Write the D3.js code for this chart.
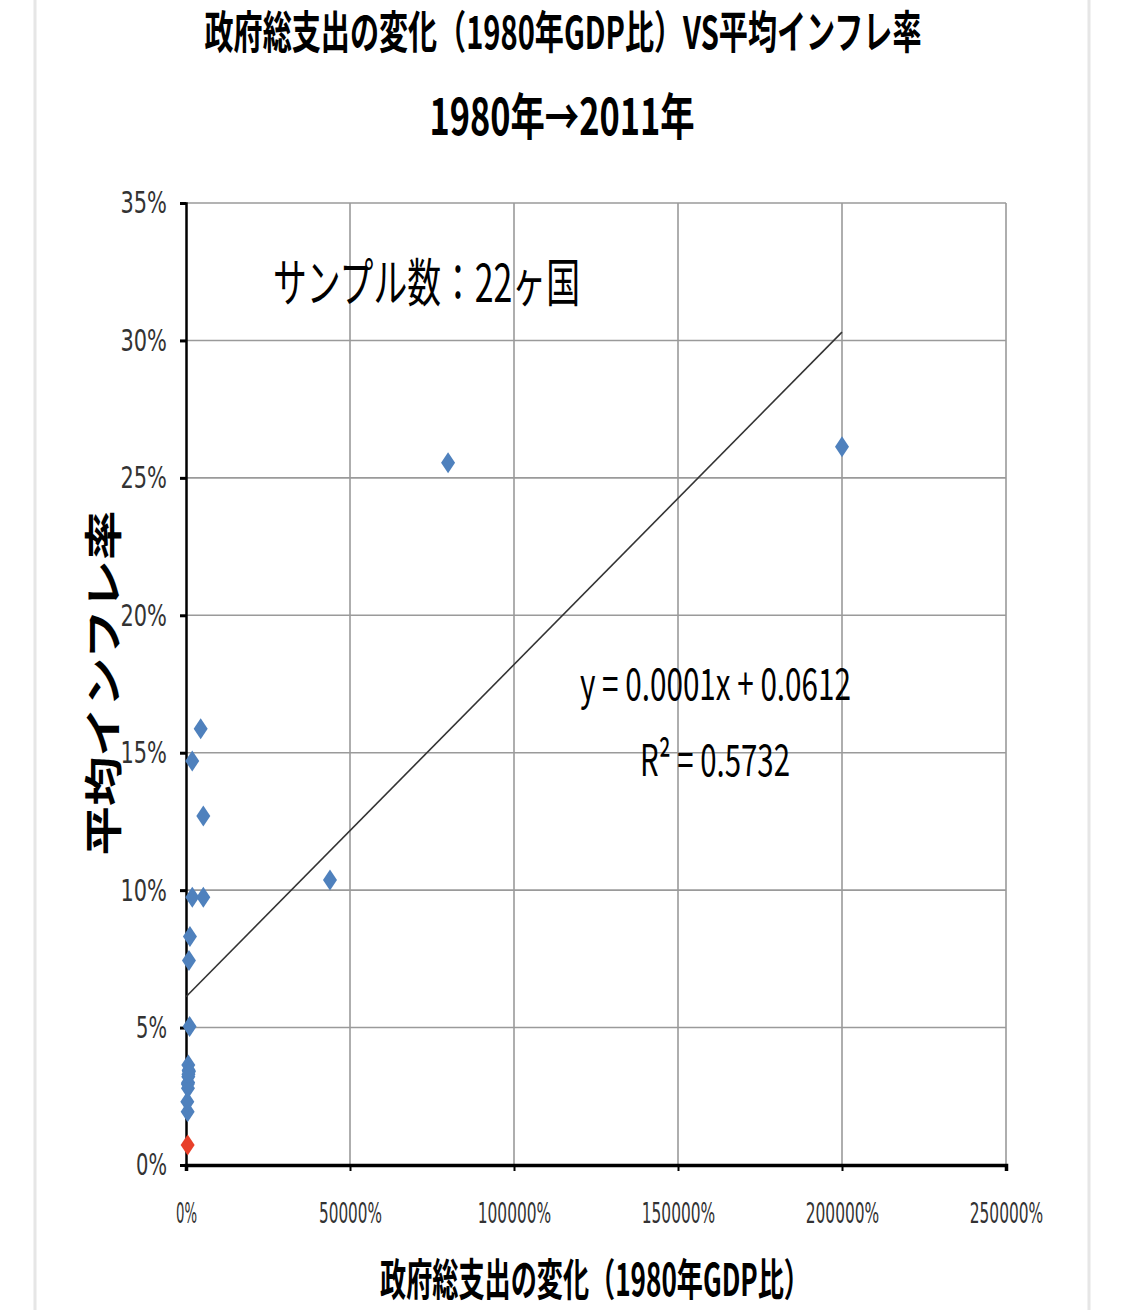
<!DOCTYPE html>
<html><head><meta charset="utf-8">
<script src="https://cdn.jsdelivr.net/npm/d3@7"></script>
<style>
html,body{margin:0;padding:0;background:#fff;}
svg{display:block;}
</style></head>
<body>
<svg id="chart" width="1125" height="1310"></svg>
<script>
// ---- data (x: 政府総支出の変化 %, y: 平均インフレ率 %) ----
const countryX = [43900, 79900, 200000, 4480, 1900, 5280, 1920, 5280, 1200, 900, 1100, 700, 700, 600, 500, 800, 650, 550, 900, 400, 750, 500];
const countryY = [10.37, 25.55, 26.13, 15.87, 14.7, 12.7, 9.74, 9.74, 8.31, 7.44, 5.04, 3.64, 3.21, 2.79, 1.94, 3.45, 3.0, 2.95, 3.4, 2.3, 3.3, 0.73];
const highlight = [false,false,false,false,false,false,false,false,false,false,false,false,false,false,false,false,false,false,false,false,false,true];
const xTicks = [0, 50000, 100000, 150000, 200000, 250000];
const yTicks = [0, 5, 10, 15, 20, 25, 30, 35];
const trendX = [0, 200000];
const trendIntercept = 6.12;
const trendSlope = 0.0001209;
const titleLine1 = "政府総支出の変化（1980年GDP比）VS平均インフレ率";
const titleLine2 = "1980年→2011年";
const xTitle = "政府総支出の変化（1980年GDP比）";
const yTitle = "平均インフレ率";
const sampleText = "サンプル数：22ヶ国";
const eqText = "y = 0.0001x + 0.0612";
const r2Text = "R² = 0.5732";

// ---- layout ----
const svg = d3.select("#chart");
const L = 186, R = 1006, T = 203, B = 1165;
const x = d3.scaleLinear().domain([0, 250000]).range([L, R]);
const y = d3.scaleLinear().domain([0, 35]).range([B, T]);
const jp = "'Noto Sans CJK JP', 'Noto Sans', sans-serif";
const narrow = "'Liberation Sans Narrow', 'DejaVu Sans Condensed', 'Liberation Sans', sans-serif";

// page borders
svg.append("rect").attr("x", 0).attr("y", 0).attr("width", 1125).attr("height", 1310).attr("fill", "#fff");
[35, 1089].forEach(px => svg.append("line").attr("x1", px).attr("x2", px).attr("y1", 0).attr("y2", 1310)
  .attr("stroke", "#e6e6e6").attr("stroke-width", 3));

// gridlines
svg.append("g").selectAll("line").data(yTicks.filter(d => d > 0)).join("line")
  .attr("x1", L).attr("x2", R).attr("y1", d => y(d)).attr("y2", d => y(d))
  .attr("stroke", "#9a9a9a").attr("stroke-width", 1.6);
svg.append("g").selectAll("line").data(xTicks.filter(d => d > 0)).join("line")
  .attr("x1", d => x(d)).attr("x2", d => x(d)).attr("y1", T).attr("y2", B)
  .attr("stroke", "#9a9a9a").attr("stroke-width", 1.6);

// axes
const yAxis = svg.append("g").attr("transform", `translate(${L},0)`)
  .call(d3.axisLeft(y).tickValues(yTicks).tickSize(6).tickPadding(13).tickFormat(d => d + "%"));
yAxis.select(".domain").attr("stroke", "#000").attr("stroke-width", 2.5);
yAxis.selectAll(".tick line").attr("stroke", "#000").attr("stroke-width", 3);
yAxis.selectAll(".tick text").attr("font-family", narrow).attr("font-size", 31).attr("fill", "#333")
  .attr("textLength", d => (d + "%").length * 15.5).attr("lengthAdjust", "spacingAndGlyphs");

const xAxis = svg.append("g").attr("transform", `translate(0,${B})`)
  .call(d3.axisBottom(x).tickValues(xTicks).tickSize(6).tickPadding(32).tickFormat(d => d + "%"));
xAxis.select(".domain").attr("stroke", "#000").attr("stroke-width", 3.5);
xAxis.selectAll(".tick line").attr("stroke", "#000").attr("stroke-width", 2);
xAxis.selectAll(".tick text").attr("font-family", narrow).attr("font-size", 28).attr("fill", "#333")
  .attr("textLength", d => (d + "%").length * 10.5).attr("lengthAdjust", "spacingAndGlyphs");

// trend line
svg.append("line")
  .attr("x1", x(trendX[0])).attr("y1", y(trendIntercept + trendSlope * trendX[0]))
  .attr("x2", x(trendX[1])).attr("y2", y(trendIntercept + trendSlope * trendX[1]))
  .attr("stroke", "#333").attr("stroke-width", 1.6);

// points (diamonds)
const pts = countryX.map((v, i) => ({ x: v, y: countryY[i], h: highlight[i] }));
const dw = 7, dh = 10.5;
svg.append("g").selectAll("path").data(pts).join("path")
  .attr("d", d => {
    const cx = x(d.x), cy = y(d.y);
    return `M${cx},${cy - dh}L${cx + dw},${cy}L${cx},${cy + dh}L${cx - dw},${cy}Z`;
  })
  .attr("fill", d => d.h ? "#e8402a" : "#4f81bd");

// texts
function txt(s, px, py, size, weight, len, anchor = "middle") {
  return svg.append("text").attr("x", px).attr("y", py).attr("font-family", jp)
    .attr("font-size", size).attr("font-weight", weight).attr("fill", "#000")
    .attr("text-anchor", anchor).attr("textLength", len).attr("lengthAdjust", "spacingAndGlyphs").text(s);
}
txt(titleLine1, 563, 49, 45, 700, 717);
txt(titleLine2, 562, 135, 50, 700, 265);
txt(xTitle, 595, 1296, 44, 700, 430);
txt(sampleText, 273, 302, 52, 400, 307, "start");
txt(eqText, 580, 700, 44, 400, 271, "start");
txt(r2Text, 640, 776, 44, 400, 150, "start");

// y title rotated
svg.append("text").attr("transform", "translate(117,683) rotate(-90)")
  .attr("font-family", jp).attr("font-size", 38).attr("font-weight", 700).attr("fill", "#000")
  .attr("text-anchor", "middle").attr("textLength", 345).attr("lengthAdjust", "spacingAndGlyphs").text(yTitle);
</script>
</body></html>
